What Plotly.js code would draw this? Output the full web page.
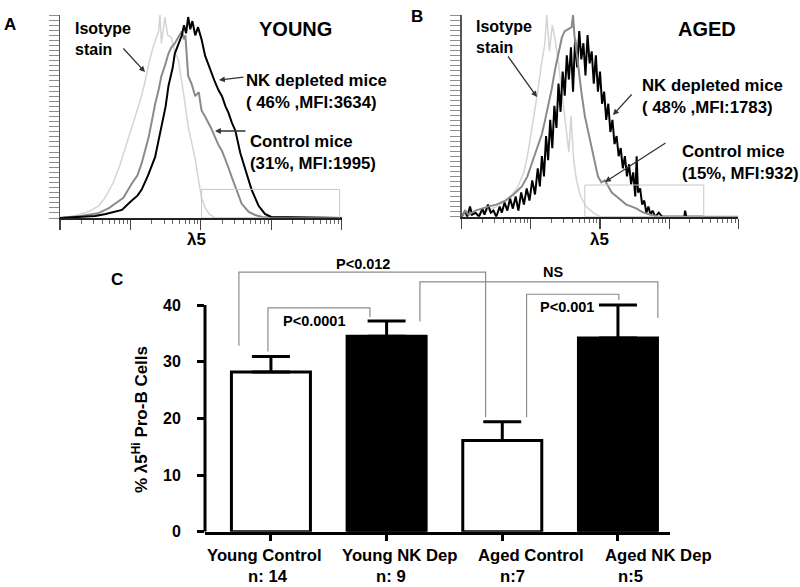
<!DOCTYPE html>
<html>
<head>
<meta charset="utf-8">
<script src="https://cdn.plot.ly/plotly-3.0.1.min.js"></script>
<style>html,body{margin:0;padding:0;background:#fff;}#chart{width:800px;height:587px;}</style>
</head>
<body>
<div id="chart"></div>
<script>
// ---------- Panel A (YOUNG) histograms: x = log10 fluorescence (decades), y = % of max ----------
const youngNK_x = [0,0.3,0.5,0.65,0.75,0.88,1.0,1.1,1.16,1.25,1.35,1.44,1.5,1.54,1.6,1.63,1.68,1.73,1.76,1.79,1.82,1.85,1.88,1.92,1.96,2.01,2.06,2.11,2.15,2.2,2.25,2.3,2.35,2.39,2.44,2.49,2.56,2.63,2.72,2.82,2.91,3.0,4.0];
const youngNK_y = [0,0.5,1,2,3,4,8,11,14,21,30,46,55,65,74,81,86,90,95,91,99,93,97,90,94,88,80,75,72,67,63,60,55,52,47,43,32,24,14,6,2,0.5,0];
const youngCtl_x = [0,0.3,0.54,0.7,0.78,0.9,1.02,1.1,1.16,1.21,1.26,1.3,1.35,1.4,1.44,1.49,1.54,1.58,1.63,1.68,1.73,1.76,1.78,1.8,1.82,1.87,1.92,1.97,2.01,2.06,2.11,2.15,2.2,2.25,2.3,2.35,2.39,2.44,2.49,2.54,2.58,2.68,2.77,2.87,4.0];
const youngCtl_y = [0,1,2.3,5,7,10,17,21,27,33,40,47,56,63,70,75,81,84,86,89,92,88,90,80,70,66,60,62,53,50,47,44,40,36,33,29,25,20,15,11,7,3,1.5,0.5,0];
const youngIso_x = [0,0.2,0.4,0.55,0.64,0.75,0.85,0.95,1.05,1.14,1.2,1.26,1.32,1.36,1.4,1.42,1.44,1.49,1.53,1.58,1.63,1.68,1.72,1.76,1.82,1.86,1.92,1.97,2.01,2.06,2.12,2.2,4.0];
const youngIso_y = [0,1,3,6,10,17,26,37,47,58,66,76,84,88,92,100,86,99,90,89,82,78,70,60,45,38,29,18,10,5,2,0,0];

// ---------- Panel B (AGED) histograms ----------
const agedNK_x = [0,0.05,0.08,0.12,0.15,0.2,0.25,0.3,0.33,0.38,0.42,0.46,0.5,0.55,0.58,0.62,0.66,0.7,0.74,0.78,0.82,0.86,0.9,0.94,0.98,1.02,1.06,1.1,1.13,1.16,1.19,1.22,1.25,1.28,1.31,1.34,1.37,1.4,1.43,1.46,1.49,1.52,1.55,1.58,1.61,1.64,1.67,1.7,1.73,1.76,1.79,1.82,1.85,1.88,1.91,1.94,1.97,2.0,2.03,2.06,2.09,2.12,2.15,2.18,2.21,2.24,2.27,2.3,2.33,2.36,2.39,2.42,2.45,2.48,2.51,2.53,2.55,2.58,2.61,2.64,2.67,2.7,2.73,2.76,2.8,2.85,2.9,3.0,3.22,3.23,3.25,3.5];
const agedNK_y = [0,3,0,5,1,2,0,4,1,6,2,3,0,5,2,7,3,9,4,10,3,12,6,14,8,18,11,24,15,30,20,40,28,48,34,55,44,66,52,72,60,80,68,84,62,88,74,92,78,86,70,90,76,82,66,80,62,72,56,62,48,56,42,48,36,40,30,34,24,30,20,26,16,22,10,30,12,14,6,8,2,5,1,3,0,2,0,0,0,3,0,0];
const agedCtl_x = [0,0.05,0.1,0.2,0.38,0.5,0.63,0.75,0.87,0.95,1.01,1.08,1.16,1.2,1.25,1.3,1.35,1.4,1.45,1.49,1.54,1.59,1.61,1.63,1.66,1.69,1.73,1.78,1.83,1.88,1.93,1.97,2.02,2.07,2.12,2.17,2.24,2.31,2.38,2.46,2.53,2.6,2.67,2.75,2.85,4.0];
const agedCtl_y = [0,3,1,3,5,6,8,11,15,20,26,33,41,47,55,63,73,81,89,92,93,94,100,90,82,73,62,50,42,33,26,20,17,18,15,12,10,8,6,5,4,2.5,1.5,0.8,0,0];
const agedIso_x = [0,0.3,0.5,0.65,0.8,0.9,0.95,1.0,1.05,1.1,1.15,1.2,1.23,1.27,1.31,1.35,1.4,1.45,1.5,1.55,1.58,1.62,1.66,1.72,1.8,1.9,2.0,4.0];
const agedIso_y = [0,2,5,8,14,22,30,40,50,62,75,85,100,82,95,88,76,62,45,32,50,28,18,10,5,2,0,0];

// gate regions (decades, % of max height)
const gateA = [2.01, 3.97, 14.1];
const gateB = [1.78, 3.5, 15.7];

// ---------- Panel C bar chart ----------
const groups = ["Young Control", "Young NK Dep", "Aged Control", "Aged NK Dep"];
const nLabels = ["n: 14", "n: 9", "n:7", "n:5"];
const means = [28.2, 34.5, 16.1, 34.2];
const semUp = [2.7, 2.7, 3.3, 5.8];
const barFill = ["#ffffff", "#000000", "#ffffff", "#000000"];
const yTicks = [0, 10, 20, 30, 40];

// significance brackets: [xLeft, xRight, top, leftBottom, rightBottom, label, labelX, labelY]
const brackets = [
  [-0.277, 1.856, 45.8, 32.8, 20.2, "P<0.012", 0.795, 47.2],
  [-0.026, 0.856, 39.5, 31.8, 37.9, "P<0.0001", 0.38, 37.1],
  [1.288, 3.345, 44.1, 37.1, 37.7, "NS", 2.435, 45.9],
  [2.21, 3.008, 41.9, 20.2, 40.9, "P<0.001", 2.556, 39.7]
];

const FONT = "Liberation Sans, Arial, Helvetica, sans-serif";
const W = 800, H = 587;
const px = v => v / W, py = v => 1 - v / H;

const minorLog = [];
for (let d = 0; d < 4; d++) for (let k = 2; k <= 9; k++) minorLog.push(d + Math.log10(k));
const histY = [];
for (let v = 0; v <= 100; v += 2.5) histY.push(v);

function hist(x, y, color, width, xa, ya) {
  return {x: x, y: y, xaxis: xa, yaxis: ya, type: 'scatter', mode: 'lines',
          line: {color: color, width: width}, hoverinfo: 'skip', showlegend: false};
}

const traces = [
  hist(youngIso_x, youngIso_y, '#d4d4d4', 1.5, 'x', 'y'),
  hist(youngCtl_x, youngCtl_y, '#8a8a8a', 2, 'x', 'y'),
  hist(youngNK_x, youngNK_y, '#000000', 2, 'x', 'y'),
  hist(agedIso_x, agedIso_y, '#d4d4d4', 1.5, 'x2', 'y2'),
  hist(agedNK_x, agedNK_y, '#000000', 2, 'x2', 'y2'),
  hist(agedCtl_x, agedCtl_y, '#8a8a8a', 2, 'x2', 'y2'),
  {
    x: groups.map((g, i) => i), y: means, type: 'bar', xaxis: 'x3', yaxis: 'y3',
    width: 0.683, showlegend: false, cliponaxis: false, hoverinfo: 'skip',
    marker: {color: barFill, line: {color: '#000', width: 3}},
    error_y: {type: 'data', symmetric: false, array: semUp, arrayminus: means.map(() => 0),
              color: '#000', thickness: 3, width: 19}
  }
];

function histX(domain) {
  return {domain: domain, range: [0, 4], showgrid: false, zeroline: false, showline: true,
          linecolor: '#222', linewidth: 2, ticks: 'outside', ticklen: 10, tickwidth: 1.2,
          tickcolor: '#444', tickvals: [0, 1, 2, 3, 4], showticklabels: false,
          minor: {tickvals: minorLog, ticks: 'outside', ticklen: 4, tickwidth: 1, tickcolor: '#666'}};
}
function histYax(domain, anchor) {
  return {domain: domain, anchor: anchor, range: [0, 100], showgrid: false, zeroline: false,
          showline: true, linecolor: '#555', linewidth: 1.5, ticks: 'outside', ticklen: 10,
          tickwidth: 1, tickcolor: '#8f8f8f', tickvals: histY, showticklabels: false};
}

const shapes = [
  {type: 'rect', xref: 'x', yref: 'y', x0: gateA[0], x1: gateA[1], y0: 0, y1: gateA[2],
   line: {color: '#c8c8c8', width: 1}},
  {type: 'rect', xref: 'x2', yref: 'y2', x0: gateB[0], x1: gateB[1], y0: 0, y1: gateB[2],
   line: {color: '#c8c8c8', width: 1}},
  {type: 'line', xref: 'paper', yref: 'y3', x0: px(205), x1: px(205), y0: 0, y1: 40,
   line: {color: '#000', width: 3}}
];
const annotations = [];
brackets.forEach(b => {
  shapes.push({type: 'path', xref: 'x3', yref: 'y3',
    path: `M ${b[0]} ${b[3]} L ${b[0]} ${b[2]} L ${b[1]} ${b[2]} L ${b[1]} ${b[4]}`,
    line: {color: '#8c8c8c', width: 1.2}});
  annotations.push({xref: 'x3', yref: 'y3', x: b[6], y: b[7], text: b[5], showarrow: false,
    font: {family: FONT, size: 14.5, color: '#000', weight: 'bold'}});
});

// y tick labels of the bar chart, right-aligned at the original position
yTicks.forEach(v => {
  annotations.push({xref: 'paper', yref: 'y3', x: px(183), y: v, text: String(v), showarrow: false,
    xanchor: 'right', yanchor: 'middle', font: {family: FONT, size: 16, color: '#000', weight: 'bold'}});
});

function txt(x, y, text, size, xanchor) {
  annotations.push({xref: 'paper', yref: 'paper', x: px(x), y: py(y), text: text, showarrow: false,
    xanchor: xanchor || 'center', yanchor: 'middle', align: 'left',
    font: {family: FONT, size: size, color: '#000', weight: 'bold'}});
}
function arrow(tx, ty, hx, hy, head) {
  annotations.push({xref: 'paper', yref: 'paper', x: px(hx), y: py(hy), ax: tx - hx, ay: ty - hy,
    text: '', showarrow: true, arrowhead: head, arrowsize: 0.9, arrowwidth: 1.3, arrowcolor: '#333'});
}

txt(10, 24, 'A', 17);
txt(417, 16, 'B', 17);
txt(117, 280, 'C', 17);
txt(295, 29.5, 'YOUNG', 20);
txt(707, 29.5, 'AGED', 20);
txt(73, 39, 'Isotype<br>stain', 16, 'left');
txt(474, 37, 'Isotype<br>stain', 16, 'left');
txt(244, 91, 'NK depleted mice<br>( 46% ,MFI:3634)', 16.8, 'left');
txt(248, 152, 'Control mice<br>(31%, MFI:1995)', 16.8, 'left');
txt(640, 96, 'NK depleted mice<br>( 48% ,MFI:1783)', 16.8, 'left');
txt(680, 162, 'Control mice<br>(15%, MFI:932)', 16.8, 'left');
txt(196, 239, 'λ5', 17);
txt(599, 239, 'λ5', 17);
annotations.push({xref: 'paper', yref: 'paper', x: px(140), y: py(420), textangle: -90,
  text: '% λ5<sup>Hi</sup> Pro-B Cells', showarrow: false, xanchor: 'center', yanchor: 'middle',
  font: {family: FONT, size: 17, color: '#000', weight: 'bold'}});

// category labels (two lines each, positioned as in the original figure)
const catLine1X = [264, 400, 531, 658];
const catLine2X = [267.5, 391, 512, 630];
groups.forEach((g, i) => {
  txt(catLine1X[i], 555, g, 16.7);
  txt(catLine2X[i], 576, nLabels[i], 16.7);
});

arrow(122, 47, 145, 72, 2);
arrow(245, 77, 219, 80, 2);
arrow(247, 131, 215, 131, 2);
arrow(507, 55, 537, 97, 2);
arrow(633, 93, 613, 115, 2);
arrow(667, 142, 605, 182, 2);

const layout = {
  width: W, height: H, margin: {l: 0, r: 0, t: 0, b: 0},
  paper_bgcolor: '#fff', plot_bgcolor: 'rgba(0,0,0,0)',
  font: {family: FONT, color: '#000', weight: 'bold'},
  showlegend: false,
  xaxis: Object.assign(histX([px(60), px(341.7)]), {anchor: 'y'}),
  yaxis: histYax([py(218), py(15)], 'x'),
  xaxis2: Object.assign(histX([px(461.7), px(738.3)]), {anchor: 'y2'}),
  yaxis2: histYax([py(216.7), py(15)], 'x2'),
  xaxis3: {domain: [px(205), px(670)], anchor: 'y3', range: [-0.57, 3.45], showgrid: false,
    zeroline: false, showline: true, linecolor: '#000', linewidth: 3, ticks: 'outside',
    ticklen: 6, tickwidth: 3, tickcolor: '#000', tickvals: [0, 1, 2, 3], showticklabels: false},
  yaxis3: {domain: [py(531.7), py(531.7 - 48.5 * 5.667)], anchor: 'x3', range: [0, 48.5],
    showgrid: false, zeroline: false, showline: false, ticks: 'outside', ticklen: 7, tickwidth: 3,
    tickcolor: '#000', tickvals: yTicks, showticklabels: false},
  shapes: shapes,
  annotations: annotations
};

Plotly.newPlot('chart', traces, layout, {displayModeBar: false, staticPlot: true});
</script>
</body>
</html>
